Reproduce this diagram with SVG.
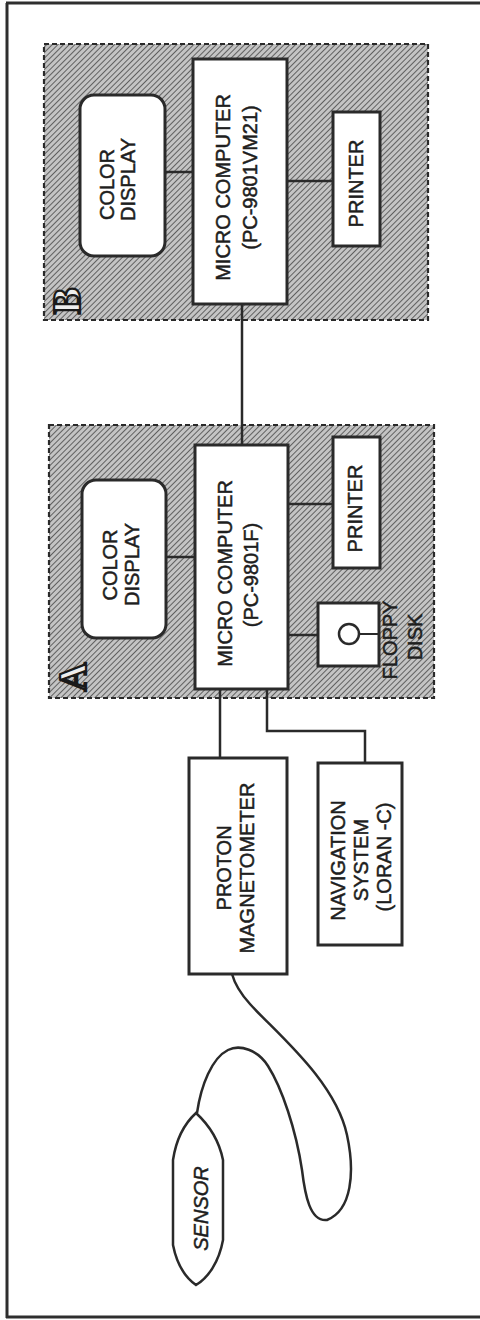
<svg xmlns="http://www.w3.org/2000/svg" width="480" height="1320" viewBox="0 0 480 1320">
<defs>
<pattern id="hatch" width="4" height="4" patternUnits="userSpaceOnUse" patternTransform="rotate(45)">
<rect width="4" height="4" fill="#c4c4c4"/>
<line x1="0" y1="0" x2="0" y2="4" stroke="#555" stroke-width="1.8"/>
</pattern>
<style>
.frame{stroke:#2e2e2e;stroke-width:3;fill:none}
.panel{fill:url(#hatch);stroke:#2a2a2a;stroke-width:2.2;stroke-dasharray:5 3}
.box{fill:#fff;stroke:#2a2a2a;stroke-width:3}
.conn{fill:none;stroke:#2a2a2a;stroke-width:2.5}
.t{font-family:"Liberation Sans",Arial,sans-serif;font-size:20px;fill:#1e1e1e;stroke:#1e1e1e;stroke-width:0.5;text-anchor:middle}
.it{font-style:italic}
.lab{font-family:"Liberation Serif","Times New Roman",serif;font-weight:bold;font-size:40px;fill:#eeeeee;stroke:#1a1a1a;stroke-width:2.2;text-anchor:middle}
</style>
</defs>
<rect width="480" height="1320" fill="#fff"/>
<g id="frame">
<line class="frame" x1="7" y1="3" x2="7" y2="1318"/>
<line class="frame" x1="6" y1="3" x2="480" y2="3"/>
<line class="frame" x1="6" y1="1317" x2="480" y2="1317"/>
</g>
<g id="panelB">
<rect class="panel" x="44" y="44" width="384" height="276"/>
<text class="lab" transform="translate(80,301) rotate(-90)">B</text>
</g>
<g id="panelA">
<rect class="panel" x="49" y="425" width="385" height="273"/>
<text class="lab" transform="translate(86,677) rotate(-90)">A</text>
</g>
<g id="connectors">
<line class="conn" x1="165" y1="172" x2="193" y2="172"/>
<line class="conn" x1="287" y1="181" x2="333" y2="181"/>
<line class="conn" x1="242" y1="304" x2="242" y2="445"/>
<line class="conn" x1="166" y1="557" x2="195" y2="557"/>
<line class="conn" x1="288" y1="504" x2="333" y2="504"/>
<line class="conn" x1="288" y1="635" x2="318" y2="635"/>
<line class="conn" x1="220" y1="689" x2="220" y2="758"/>
<polyline class="conn" points="267,689 267,731 365,731 365,763"/>
<path class="conn" d="M232,974 C235,985 240,993 250,1004 C275,1032 335,1080 347,1135 C355,1172 352,1210 327,1220 C310,1222 305,1195 302,1170 C296,1130 282,1088 268,1066 C258,1050 240,1044 228,1050 C212,1058 201,1085 197,1113"/>
</g>
<g id="colorDisplayB">
<rect class="box" x="80" y="95" width="85" height="161" rx="14"/>
<text class="t" transform="translate(114,184.5) rotate(-90)">COLOR</text>
<text class="t" transform="translate(135,179.5) rotate(-90)">DISPLAY</text>
</g>
<g id="microComputerB">
<rect class="box" x="193" y="59" width="94" height="245"/>
<text class="t" transform="translate(229.5,187.5) rotate(-90)">MICRO COMPUTER</text>
<text class="t" transform="translate(257,177.5) rotate(-90)">(PC-9801VM21)</text>
</g>
<g id="printerB">
<rect class="box" x="333" y="112" width="47" height="134"/>
<text class="t" transform="translate(362.5,183.5) rotate(-90)">PRINTER</text>
</g>
<g id="colorDisplayA">
<rect class="box" x="82" y="480" width="84" height="158" rx="14"/>
<text class="t" transform="translate(116.5,565) rotate(-90)">COLOR</text>
<text class="t" transform="translate(138.5,564.5) rotate(-90)">DISPLAY</text>
</g>
<g id="microComputerA">
<rect class="box" x="195" y="445" width="93" height="244"/>
<text class="t" transform="translate(231.5,573.5) rotate(-90)">MICRO COMPUTER</text>
<text class="t" transform="translate(258,575) rotate(-90)">(PC-9801F)</text>
</g>
<g id="printerA">
<rect class="box" x="333" y="437" width="47" height="131"/>
<text class="t" transform="translate(362,508.5) rotate(-90)">PRINTER</text>
</g>
<g id="floppyDisk">
<rect class="box" x="318" y="603" width="61" height="63"/>
<circle cx="349" cy="634" r="10" fill="#fff" stroke="#2a2a2a" stroke-width="2.5"/>
<line x1="359" y1="634" x2="379" y2="634" stroke="#2a2a2a" stroke-width="2"/>
<text class="t" transform="translate(397,640) rotate(-90)">FLOPPY</text>
<text class="t" transform="translate(422,637) rotate(-90)">DISK</text>
</g>
<g id="protonMagnetometer">
<rect class="box" x="189" y="758" width="98" height="216"/>
<text class="t" transform="translate(230.5,868) rotate(-90)">PROTON</text>
<text class="t" transform="translate(254,868) rotate(-90)">MAGNETOMETER</text>
</g>
<g id="navigationSystem">
<rect class="box" x="318" y="763" width="84" height="182"/>
<text class="t" transform="translate(344.5,860.5) rotate(-90)">NAVIGATION</text>
<text class="t" transform="translate(367.5,860) rotate(-90)">SYSTEM</text>
<text class="t" transform="translate(391,857) rotate(-90)">(LORAN -C)</text>
</g>
<g id="sensor">
<path d="M196,1113 C184,1124 176,1140 173,1160 L173,1245 C177,1265 186,1278 196,1285 C208,1278 219,1262 223,1240 L223,1160 C219,1140 208,1124 196,1113 Z" fill="#fff" stroke="#2a2a2a" stroke-width="2.5"/>
<text class="t it" transform="translate(207.5,1208.5) rotate(-90)">SENSOR</text>
</g>
</svg>
